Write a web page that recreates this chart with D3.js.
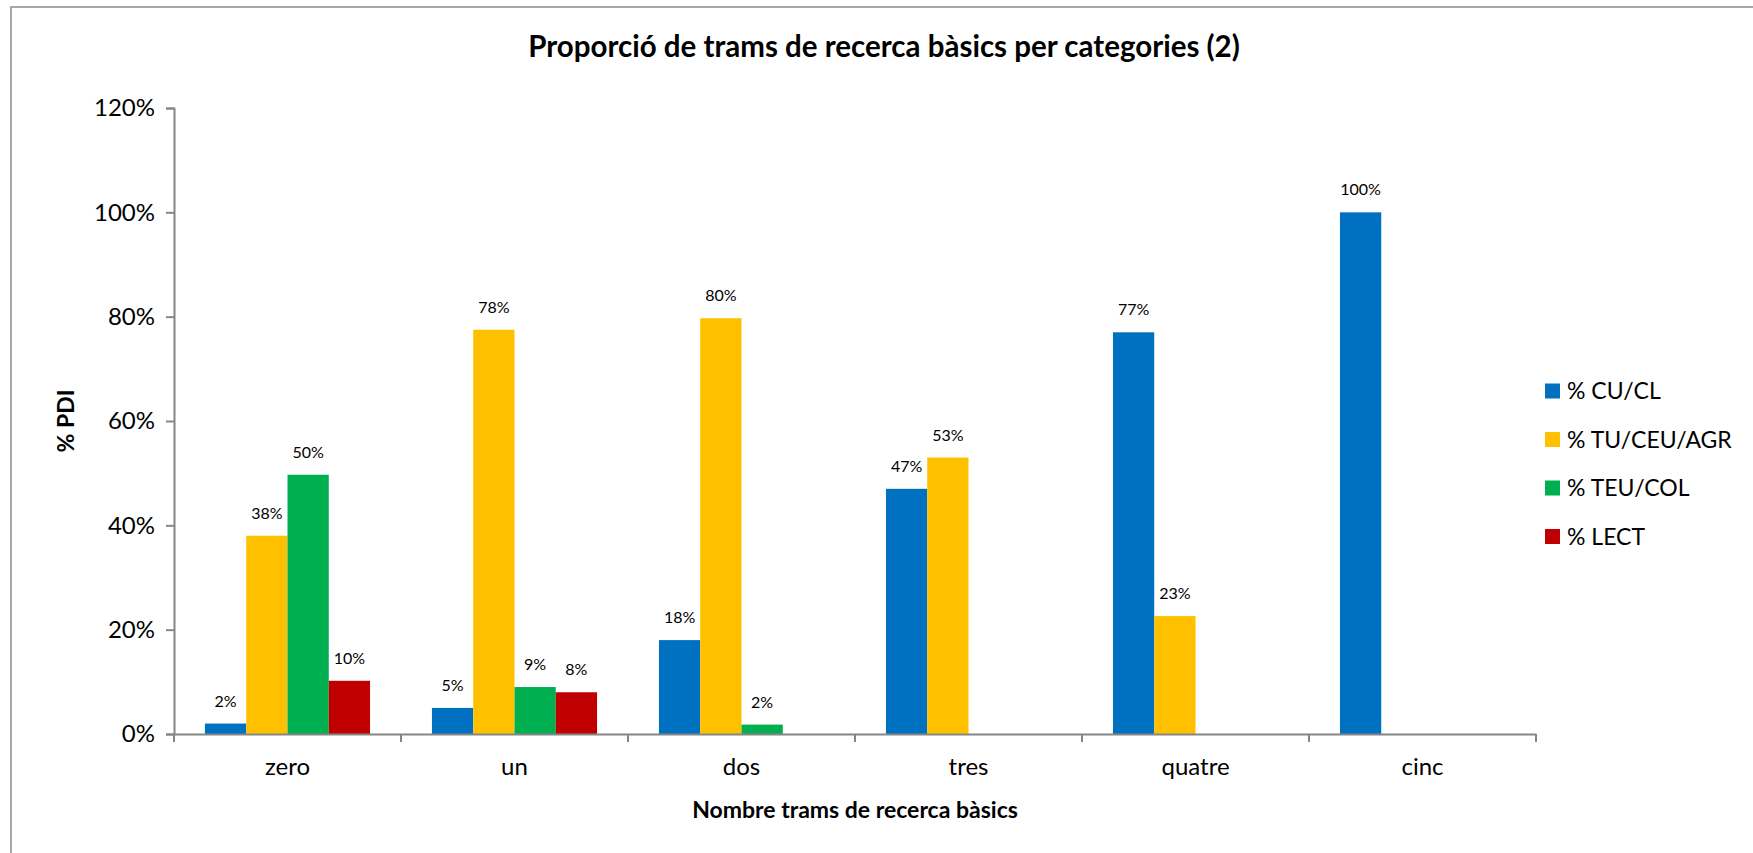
<!DOCTYPE html>
<html>

<head>
  <meta charset="utf-8">
  <title>Proporció de trams de recerca bàsics per categories (2)</title>
  <script src="https://cdn.jsdelivr.net/npm/d3@7"></script>
  <style>
    body { margin: 0; background: #fff; }
    svg { display: block; font-family: Lato, "Open Sans", sans-serif; }
    .axis path, .axis line { stroke: #868686; stroke-width: 2; }
    .axis text { fill: #000; font-size: 24px; font-family: Lato, "Open Sans", sans-serif; }
  </style>
</head>

<body>
  <div class="chart"></div>
  <script>
    // data
    var categories = ["zero", "un", "dos", "tres", "quatre", "cinc"];
    var seriesNames = ["% CU/CL", "% TU/CEU/AGR", "% TEU/COL", "% LECT"];
    var seriesColors = ["#0070C0", "#FFC000", "#00B050", "#C00000"];
    var cuCl = [0.02, 0.05, 0.18, 0.47, 0.77, 1.00];
    var tuCeuAgr = [0.38, 0.775, 0.797, 0.53, 0.226, 0];
    var teuCol = [0.497, 0.09, 0.018, 0, 0, 0];
    var lect = [0.102, 0.08, 0, 0, 0, 0];
    var yTicks = [0, 0.2, 0.4, 0.6, 0.8, 1.0, 1.2];

    var allSeries = [cuCl, tuCeuAgr, teuCol, lect];

    var width = 1753, height = 853;
    var margin = { top: 108, right: 217, bottom: 119, left: 174 };

    var svg = d3.select(".chart").append("svg")
      .attr("width", width)
      .attr("height", height);

    // outer frame of the chart area
    svg.append("rect")
      .attr("x", 11).attr("y", 7)
      .attr("width", width + 20).attr("height", height + 20)
      .attr("fill", "none")
      .attr("stroke", "#8c8c8c")
      .attr("stroke-width", 1.5);

    var x0 = d3.scaleBand()
      .domain(categories)
      .range([margin.left, width - margin.right]);

    var x1 = d3.scaleBand()
      .domain(d3.range(seriesNames.length))
      .range([0, x0.bandwidth()])
      .paddingOuter(0.75);

    var y = d3.scaleLinear()
      .domain([0, 1.2])
      .range([height - margin.bottom, margin.top]);

    var pct = d3.format(".0%");

    // bars
    var groups = svg.append("g").selectAll("g")
      .data(categories)
      .enter().append("g")
      .attr("transform", function (d) { return "translate(" + x0(d) + ",0)"; });

    groups.selectAll("rect")
      .data(function (d, i) {
        return allSeries.map(function (s, k) { return { k: k, v: s[i] }; });
      })
      .enter().append("rect")
      .attr("x", function (d) { return x1(d.k); })
      .attr("width", x1.bandwidth())
      .attr("y", function (d) { return y(d.v); })
      .attr("height", function (d) { return y(0) - y(d.v); })
      .attr("fill", function (d) { return seriesColors[d.k]; });

    groups.selectAll("text")
      .data(function (d, i) {
        return allSeries.map(function (s, k) { return { k: k, v: s[i] }; }).filter(function (d) { return d.v > 0; });
      })
      .enter().append("text")
      .attr("x", function (d) { return x1(d.k) + x1.bandwidth() / 2; })
      .attr("y", function (d) { return y(d.v) - 17; })
      .attr("text-anchor", "middle")
      .style("font-size", "16px")
      .text(function (d) { return pct(d.v); });

    // axes
    svg.append("g")
      .attr("class", "axis")
      .attr("transform", "translate(" + margin.left + ",0)")
      .call(d3.axisLeft(y).tickValues(yTicks).tickFormat(pct).tickSizeInner(8).tickSizeOuter(8).tickPadding(11));

    var xAxis = svg.append("g")
      .attr("class", "axis")
      .attr("transform", "translate(0," + y(0) + ")")
      .call(d3.axisBottom(x0).tickSize(0).tickPadding(24));

    // category boundary ticks
    xAxis.selectAll(".bound")
      .data(categories.concat(["end"]))
      .enter().append("line")
      .attr("x1", function (d, i) { return margin.left + i * x0.step(); })
      .attr("x2", function (d, i) { return margin.left + i * x0.step(); })
      .attr("y1", 0).attr("y2", 8);

    // titles
    svg.append("text")
      .attr("x", 884).attr("y", 57)
      .attr("text-anchor", "middle")
      .style("font-size", "29.5px").style("font-weight", "bold")
      .text("Proporció de trams de recerca bàsics per categories (2)");

    svg.append("text")
      .attr("x", (margin.left + width - margin.right) / 2).attr("y", 818)
      .attr("text-anchor", "middle")
      .style("font-size", "23px").style("font-weight", "bold")
      .text("Nombre trams de recerca bàsics");

    svg.append("text")
      .attr("transform", "translate(74," + (y(0.6)) + ") rotate(-90)")
      .attr("text-anchor", "middle")
      .style("font-size", "23px").style("font-weight", "bold")
      .text("% PDI");

    // legend
    var legend = svg.append("g").selectAll("g")
      .data(seriesNames)
      .enter().append("g")
      .attr("transform", function (d, i) { return "translate(1545," + (391 + i * 48.5) + ")"; });

    legend.append("rect")
      .attr("x", 0).attr("y", -7.5)
      .attr("width", 15).attr("height", 15)
      .attr("fill", function (d, i) { return seriesColors[i]; });

    legend.append("text")
      .attr("x", 22).attr("y", 0)
      .attr("dy", "0.35em")
      .style("font-size", "23px")
      .text(function (d) { return d; });
  </script>
</body>

</html>
